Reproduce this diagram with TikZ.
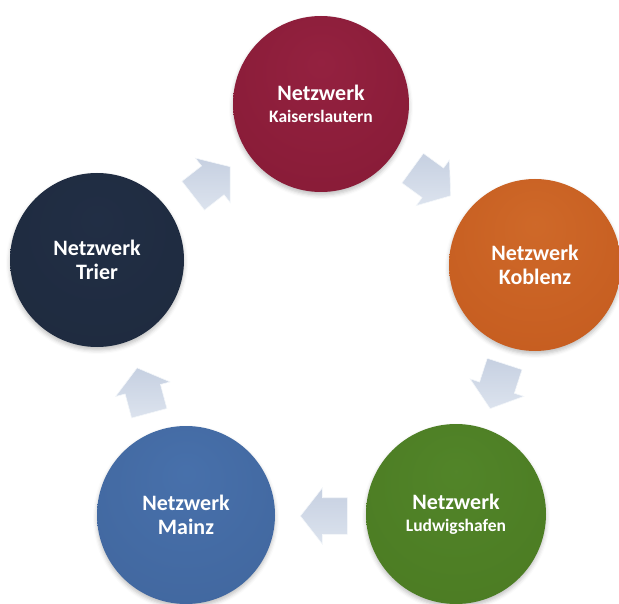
\documentclass[tikz,border=0pt]{standalone}
\usepackage{fontspec}
\setmainfont{Carlito}
\usetikzlibrary{shapes.arrows,shadows.blur}

\pgfdeclareradialshading{klshade}{\pgfpoint{0bp}{12bp}}{rgb(0bp)=(0.58,0.13,0.25); rgb(30bp)=(0.54,0.11,0.22); rgb(52bp)=(0.50,0.09,0.20); rgb(62bp)=(0.40,0.06,0.15)}
\pgfdeclareradialshading{koshade}{\pgfpoint{0bp}{12bp}}{rgb(0bp)=(0.81,0.41,0.16); rgb(30bp)=(0.78,0.37,0.13); rgb(52bp)=(0.74,0.33,0.11); rgb(62bp)=(0.62,0.26,0.07)}
\pgfdeclareradialshading{lushade}{\pgfpoint{0bp}{12bp}}{rgb(0bp)=(0.32,0.52,0.16); rgb(30bp)=(0.30,0.49,0.14); rgb(52bp)=(0.27,0.45,0.12); rgb(62bp)=(0.20,0.36,0.08)}
\pgfdeclareradialshading{mashade}{\pgfpoint{0bp}{12bp}}{rgb(0bp)=(0.28,0.44,0.67); rgb(30bp)=(0.26,0.41,0.63); rgb(52bp)=(0.23,0.38,0.59); rgb(62bp)=(0.17,0.30,0.50)}
\pgfdeclareradialshading{trshade}{\pgfpoint{0bp}{12bp}}{rgb(0bp)=(0.13,0.18,0.27); rgb(30bp)=(0.12,0.17,0.25); rgb(52bp)=(0.10,0.15,0.23); rgb(62bp)=(0.06,0.10,0.17)}

\definecolor{arrlight}{HTML}{DCE3EE}
\definecolor{arrmid}{HTML}{C6D0E1}

\tikzset{
  netz/.style={circle, minimum size=176pt, inner sep=0pt, shade, text=white,
    font=\bfseries\fontsize{22}{24}\selectfont, align=center,
    blur shadow={shadow xshift=0pt, shadow yshift=-3pt, shadow blur radius=4pt, shadow opacity=25}},
  blockarrow/.style={single arrow, anchor=tip, minimum height=47pt, inner xsep=0pt, inner ysep=18pt,
    single arrow head extend=10pt, single arrow tip angle=104,
    left color=arrmid, right color=arrlight, shading angle=0,
    draw=white!70!arrlight, line width=0.6pt}
}

\begin{document}
\begin{tikzpicture}[x=1pt,y=-1pt]
\useasboundingbox (0,0) rectangle (619,604);

\node[netz, shading=klshade] (kl) at (321,104) {Netzwerk\\[-2pt]{\fontsize{17.5}{20}\selectfont Kaiserslautern}};
\node[netz, shading=koshade, minimum size=172pt] (ko) at (535,265) {Netzwerk\\Koblenz};
\node[netz, shading=lushade, minimum size=180pt] (lu) at (456,514) {Netzwerk\\[-2pt]{\fontsize{17.5}{20}\selectfont Ludwigshafen}};
\node[netz, shading=mashade, minimum size=178pt] (ma) at (186,515) {Netzwerk\\Mainz};
\node[netz, shading=trshade, minimum size=174pt] (tr) at (97,260) {Netzwerk\\Trier};

\node[blockarrow, rotate=38] (a1) at (230.5,166.5) {};
\node[blockarrow, rotate=-36] (a2) at (451,196) {};
\node[blockarrow, rotate=-108] (a3) at (490,409) {};
\node[blockarrow, rotate=180] (a4) at (300,516) {};
\node[blockarrow, rotate=105] (a5) at (137,367.5) {};
\end{tikzpicture}
\end{document}
